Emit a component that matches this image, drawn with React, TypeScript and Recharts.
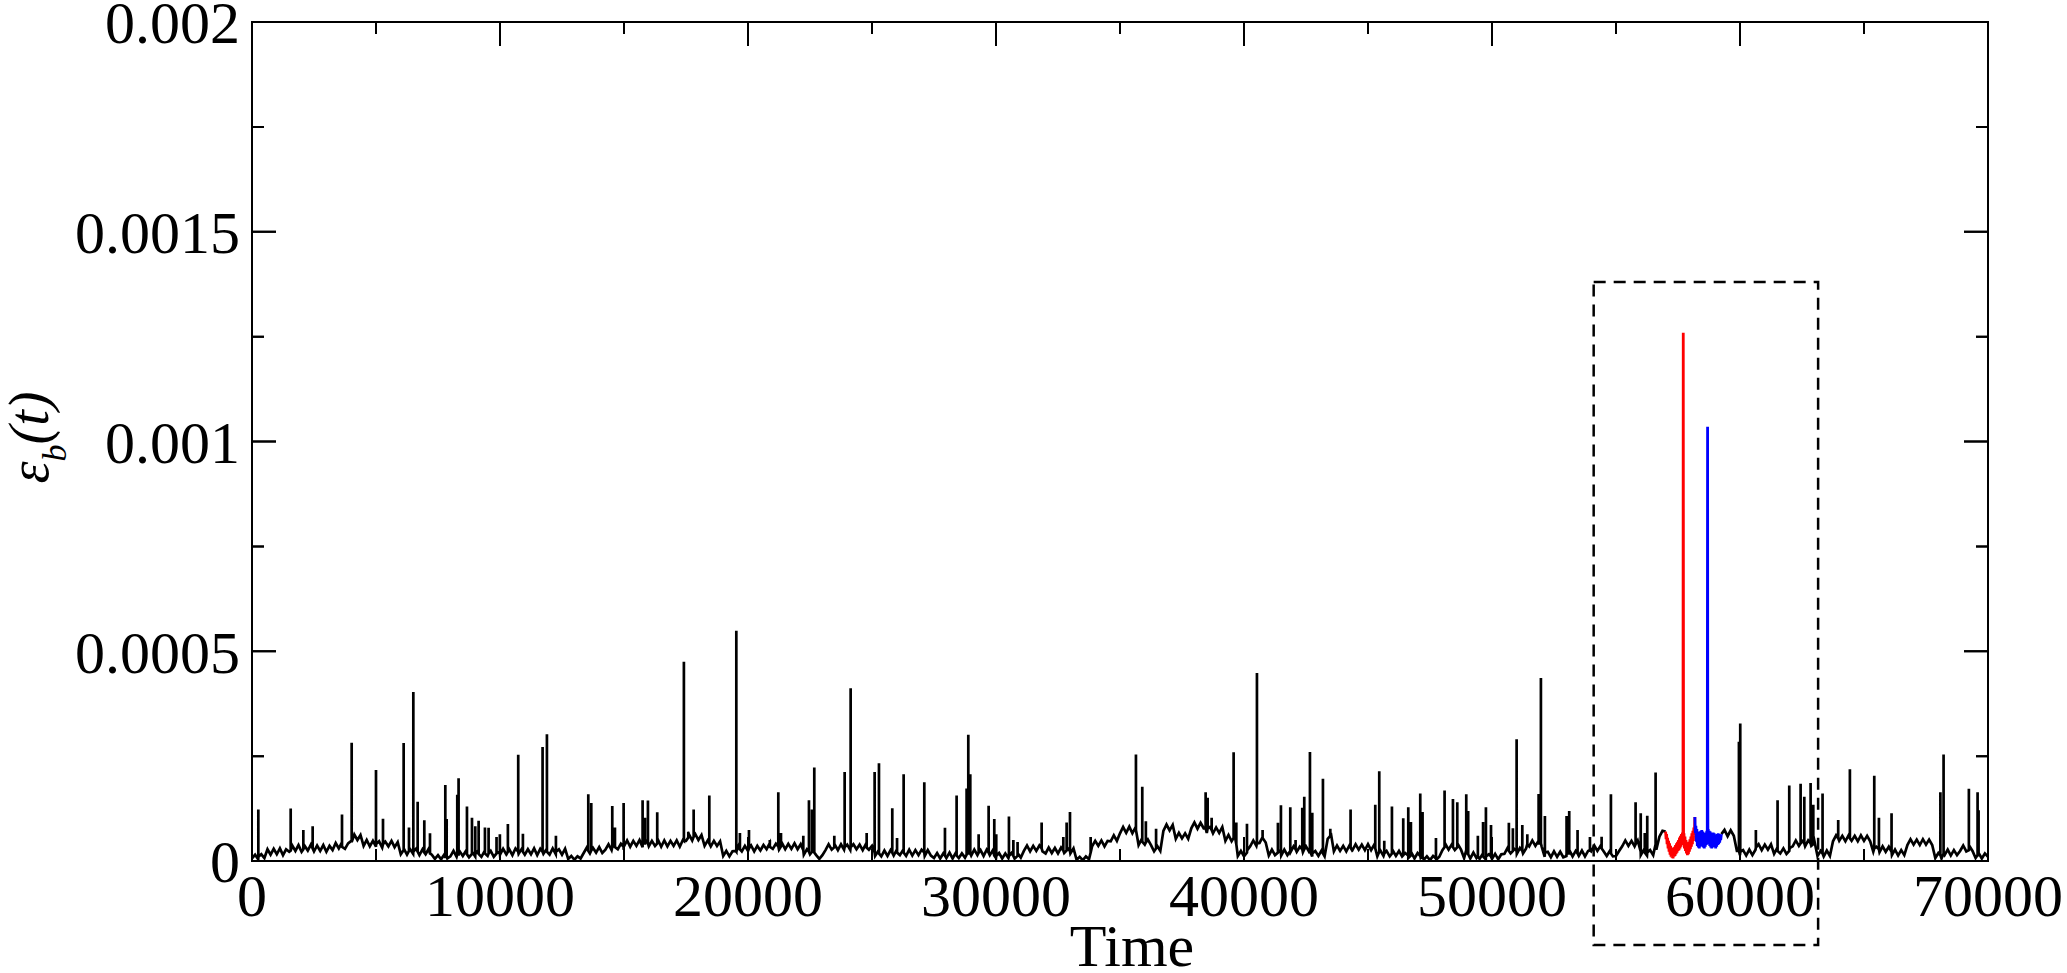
import { LineChart, Line, XAxis, YAxis, ReferenceArea, ReferenceLine, Label } from "recharts";

const FONT = "'Liberation Serif', 'Times New Roman', serif";

// layout
const CHART_W = 2067;
const CHART_H = 973;
const MARGIN = { top: 22, right: 79, bottom: 0, left: 0 };
const Y_AXIS_W = 252;
const X_AXIS_H = 112;
const PLOT_LEFT = MARGIN.left + Y_AXIS_W;
const PLOT_RIGHT = CHART_W - MARGIN.right;
const PLOT_TOP = MARGIN.top;
const PLOT_BOTTOM = CHART_H - MARGIN.bottom - X_AXIS_H;
const MAJOR = 24;
const MINOR = 12;

// axes (energy in units of 1e-6)
const xTicks = [0, 10000, 20000, 30000, 40000, 50000, 60000, 70000];
const xMinorTicks = [5000, 15000, 25000, 35000, 45000, 55000, 65000];
const yTicks = [0, 500, 1000, 1500, 2000];
const yMinorTicks = [250, 750, 1250, 1750];
const yTickLabels = ["0", "0.0005", "0.001", "0.0015", "0.002"];
const xAllTicks = [...xTicks, ...xMinorTicks].sort((a, b) => a - b);
const yAllTicks = [...yTicks, ...yMinorTicks].sort((a, b) => a - b);

// background level, one reading every 125 time units (null = coloured part)
const SAMPLE_STEP = 125;
const baseline: (number | null)[] = [
  6, 15, 4, 16, 7, 28, 15, 29, 16, 30, 14, 28, 22, 37, 24, 38, 22, 36, 25, 39, 23, 37, 24, 38, 22, 36, 26, 43, 30, 44, 29, 42, 48, 63, 50, 62, 36, 50, 35, 48,
  34, 47, 32, 46, 35, 48, 33, 45, 16, 29, 15, 28, 17, 30, 14, 28, 16, 29, 15, 5, 14, 4, 15, 6, 11, 24, 10, 23, 12, 24, 9, 22, 11, 25, 10, 23, 12, 24, 10, 22,
  15, 29, 16, 28, 14, 30, 17, 29, 15, 28, 16, 30, 14, 29, 17, 28, 15, 30, 16, 28, 15, 29, 5, 12, 3, 11, 6, 19, 32, 18, 31, 20, 33, 19, 27, 40, 26, 39, 28, 41,
  35, 49, 34, 48, 36, 50, 33, 49, 35, 48, 36, 50, 34, 49, 35, 48, 36, 49, 34, 50, 48, 63, 49, 64, 50, 62, 36, 49, 35, 48, 36, 47, 12, 24, 11, 23, 24, 37, 23, 36,
  24, 37, 23, 36, 25, 38, 28, 42, 29, 41, 27, 42, 28, 41, 29, 42, 28, 40, 15, 28, 16, 29, 14, 5, 14, 26, 40, 27, 39, 26, 40, 27, 39, 26, 40, 28, 39, 26, 40, 27,
  36, 12, 24, 11, 25, 12, 26, 13, 27, 14, 26, 12, 27, 13, 26, 14, 27, 12, 26, 13, 7, 19, 6, 18, 7, 20, 6, 19, 7, 18, 8, 26, 13, 27, 14, 26, 12, 27, 14, 26,
  7, 19, 6, 18, 7, 19, 6, 18, 8, 24, 37, 23, 36, 24, 37, 23, 18, 32, 19, 31, 18, 32, 19, 31, 18, 30, 3, 10, 2, 11, 4, 35, 48, 36, 49, 35, 48, 47, 61, 48,
  66, 81, 67, 82, 66, 80, 38, 52, 39, 51, 38, 23, 36, 24, 72, 87, 73, 86, 53, 67, 54, 66, 53, 78, 92, 77, 91, 78, 67, 81, 66, 80, 67, 81, 48, 62, 47, 61, 12, 24,
  11, 25, 35, 49, 36, 43, 57, 44, 13, 27, 14, 26, 13, 27, 14, 21, 35, 22, 34, 21, 35, 22, 11, 24, 12, 25, 11, 53, 67, 23, 37, 24, 36, 23, 37, 26, 40, 27, 39, 26,
  40, 26, 39, 11, 25, 12, 24, 11, 25, 12, 24, 11, 19, 7, 20, 6, 19, 7, 3, 11, 2, 12, 3, 10, 26, 40, 27, 39, 26, 40, 27, 7, 19, 6, 20, 7, 5, 17, 4, 16,
  5, 17, 4, 16, 17, 31, 18, 30, 17, 31, 18, 30, 35, 49, 36, 48, 35, 10, 22, 9, 23, 10, 22, 9, 12, 25, 11, 24, 12, 25, 11, 24, 23, 37, 24, 36, 23, 12, 24, 11,
  12, 24, 35, 49, 36, 48, 35, 49, 14, 27, 13, 26, 14, 27, 58, 72, 70,
  null, null, null, null, null, null, null, null, null, null, null, null, null, null, null, null, null,
  64, 74, 59, 73, 60, 24,
  14, 26, 13, 27, 14, 27, 40, 26, 39, 27, 40, 17, 31, 18, 30, 17, 31, 35, 49, 36, 48, 35, 49, 36, 48, 12, 24, 11, 25, 12, 47, 61, 48, 60, 47, 61, 48, 60, 47, 61,
  48, 60, 47, 22, 34, 21, 35, 22, 34, 14, 27, 13, 26, 14, 38, 52, 39, 51, 38, 52, 39, 51, 38, 7, 19, 6, 14, 27, 13, 26, 14, 24, 37, 23, 36, 24, 7, 19, 6, 18,
  10,
];

// bursts [time, peak, level at the foot]
const spikes: [number, number, number][] = [
  [255, 123, 10], [1560, 125, 25], [2070, 74, 28], [2446, 83, 30], [3629, 111, 34], [4019, 282, 45],
  [5000, 217, 40], [5282, 101, 40], [6115, 281, 26], [6330, 80, 24], [6505, 403, 22], [6680, 141, 22],
  [6948, 97, 20], [7177, 66, 18], [7795, 181, 10], [7850, 100, 10], [8277, 158, 16], [8330, 197, 16],
  [8668, 130, 16], [8870, 103, 17], [9003, 83, 17], [9138, 96, 17], [9393, 80, 18], [9540, 79, 18],
  [9860, 57, 18], [9995, 64, 18], [10318, 88, 22], [10735, 253, 22], [10924, 65, 22], [11717, 272, 22],
  [11892, 302, 22], [12255, 60, 22], [13560, 159, 24], [13680, 138, 25], [14527, 131, 33], [14635, 80, 33],
  [14985, 138, 34], [15750, 145, 42], [15845, 103, 42], [15965, 144, 42], [16340, 116, 42], [17415, 475, 48],
  [17593, 70, 56], [17809, 123, 58], [18440, 156, 42], [19529, 549, 22], [19674, 67, 28], [20039, 74, 30],
  [20880, 50, 34], [21222, 164, 35], [21330, 67, 35], [22230, 60, 26], [22458, 145, 22], [22580, 123, 22],
  [22673, 223, 20], [23480, 60, 33], [23897, 212, 33], [24139, 412, 33], [24785, 67, 32], [25106, 212, 20],
  [25281, 233, 18], [25818, 126, 20], [26010, 55, 20], [26276, 207, 20], [27109, 188, 20], [27942, 79, 13],
  [28412, 156, 13], [28815, 173, 15], [28883, 301, 18], [28963, 207, 18], [29300, 64, 20], [29703, 132, 20],
  [29931, 100, 13], [30010, 64, 12], [30522, 106, 12], [30700, 50, 12], [30870, 45, 12], [31840, 92, 30],
  [32714, 57, 25], [32848, 92, 25], [32983, 117, 24], [33816, 57, 20], [35643, 254, 74], [35898, 177, 46],
  [36043, 95, 44], [36455, 77, 30], [38453, 164, 78], [38534, 151, 78], [38695, 103, 74], [39582, 259, 55],
  [39690, 92, 40], [40120, 89, 20], [40522, 448, 42], [40750, 74, 55], [41368, 91, 20], [41489, 133, 20],
  [41866, 128, 24], [42080, 50, 28], [42350, 127, 28], [42430, 153, 28], [42659, 260, 24], [42753, 115, 18],
  [43183, 196, 18], [43480, 77, 60], [44298, 123, 32], [45293, 134, 30], [45454, 214, 22], [45656, 48, 18],
  [45965, 130, 18], [46421, 102, 14], [46624, 128, 13], [46730, 93, 13], [47107, 161, 12], [47200, 117, 10],
  [47740, 55, 6], [48088, 168, 33], [48425, 148, 33], [48600, 140, 33], [48962, 159, 26], [49040, 119, 16],
  [49430, 60, 11], [49640, 93, 11], [49755, 128, 11], [49960, 86, 11], [50680, 91, 24], [50842, 78, 24],
  [50993, 290, 24], [51222, 86, 24], [51424, 64, 40], [51880, 160, 42], [51972, 436, 42], [52133, 107, 20],
  [53007, 107, 18], [53114, 119, 18], [53450, 74, 18], [53950, 57, 26], [54420, 58, 30], [54795, 159, 18],
  [55790, 140, 40], [55997, 114, 22], [56160, 67, 20], [56260, 108, 20], [56597, 211, 40], [59957, 284, 24],
  [60010, 328, 22], [60640, 74, 32], [61515, 145, 24], [61986, 180, 24], [62444, 184, 42], [62593, 153, 42],
  [62847, 186, 42], [62955, 134, 40], [63329, 161, 18], [63960, 98, 54], [64431, 219, 54], [65414, 203, 30],
  [65602, 103, 28], [66111, 114, 22], [68080, 164, 14], [68209, 254, 18], [69229, 172, 26], [69580, 164, 14],
  [69620, 121, 14],
];

// the two highlighted events
const redPart: [number, number][] = [
  [57000, 70], [57020, 52], [57040, 64], [57060, 40], [57080, 55], [57100, 30], [57120, 48], [57140, 22],
  [57160, 42], [57180, 15], [57200, 36], [57220, 10], [57240, 32], [57260, 8], [57280, 30], [57300, 6],
  [57320, 28], [57340, 10], [57360, 34], [57380, 12], [57400, 38], [57420, 16], [57440, 42], [57460, 20],
  [57480, 46], [57500, 24], [57520, 50], [57540, 26], [57560, 56], [57580, 30], [57600, 60], [57620, 34],
  [57640, 64], [57660, 38], [57680, 68], [57700, 42], [57712, 1259], [57724, 40], [57740, 66], [57760, 30],
  [57780, 58], [57800, 24], [57820, 50], [57840, 18], [57860, 44], [57880, 14], [57900, 40], [57920, 16],
  [57940, 46], [57960, 22], [57980, 52], [58000, 28], [58020, 58], [58040, 34], [58060, 66], [58080, 40],
  [58100, 72], [58120, 48], [58140, 80], [58160, 60], [58180, 105],
];

const bluePart: [number, number][] = [
  [58180, 105], [58200, 66], [58220, 84], [58240, 46], [58260, 76], [58280, 36], [58300, 70], [58320, 32],
  [58340, 68], [58360, 30], [58380, 70], [58400, 34], [58420, 72], [58440, 36], [58460, 74], [58480, 38],
  [58500, 70], [58520, 32], [58540, 66], [58560, 30], [58580, 64], [58600, 34], [58620, 68], [58640, 38],
  [58660, 72], [58680, 46], [58693, 1035], [58700, 181], [58706, 56], [58720, 76], [58740, 40], [58760, 72],
  [58780, 36], [58800, 70], [58820, 32], [58840, 66], [58860, 30], [58880, 64], [58900, 34], [58920, 68],
  [58940, 36], [58960, 66], [58980, 32], [59000, 62], [59020, 30], [59040, 60], [59060, 34], [59080, 64],
  [59100, 38], [59120, 66], [59140, 40], [59160, 64], [59180, 44], [59200, 62], [59220, 50], [59250, 64],
];

// dashed zoom box
const boxT = [54100, 63150];
const boxE = [-200, 1380];

const toPoints = (pairs: [number, number][]) => pairs.map(([t, v]) => ({ t, v }));

// nulls are kept so the black trace breaks where the coloured parts are drawn
const basePoints = baseline.map((v, i) => ({ t: i * SAMPLE_STEP, v }));
// each burst is a vertical stroke: foot -> peak -> foot
const spikePoints = spikes.flatMap(([t, peak, foot]) => [
  { t, v: foot },
  { t, v: peak },
  { t, v: foot },
]);
const blackData = [...basePoints, ...spikePoints].sort((a, b) => a.t - b.t);
const redData = toPoints(redPart);
const blueData = toPoints(bluePart);

const frame = { stroke: "#000", strokeWidth: 2 };

// x tick: label below the axis plus inward marks at bottom and top of the box
function TimeTick(props: any) {
  const { x, y, payload } = props;
  const major = xTicks.includes(payload.value);
  const len = major ? MAJOR : MINOR;
  const d = `M${x},${PLOT_BOTTOM}V${PLOT_BOTTOM - len}M${x},${PLOT_TOP}V${PLOT_TOP + len}`;
  return (
    <g>
      <path d={d} stroke="#000" strokeWidth={2} fill="none" />
      {major && (
        <text x={x} y={y} dy="0.71em" textAnchor="middle" fontFamily={FONT} fontSize={60} fill="#000">
          {String(payload.value)}
        </text>
      )}
    </g>
  );
}

// y tick: label left of the axis plus inward marks at left and right of the box
function EnergyTick(props: any) {
  const { x, y, payload } = props;
  const idx = yTicks.indexOf(payload.value);
  const len = idx >= 0 ? MAJOR : MINOR;
  const d = `M${PLOT_LEFT},${y}H${PLOT_LEFT + len}M${PLOT_RIGHT},${y}H${PLOT_RIGHT - len}`;
  return (
    <g>
      <path d={d} stroke="#000" strokeWidth={2} fill="none" />
      {idx >= 0 && (
        <text x={x} y={y} dy="0.355em" textAnchor="end" fontFamily={FONT} fontSize={60} fill="#000">
          {yTickLabels[idx]}
        </text>
      )}
    </g>
  );
}

// backup marks drawn along reference lines (one path per line)
const tickMarks = (len: number) => (p: any) => {
  const x1 = Number(p.x1);
  const y1 = Number(p.y1);
  const x2 = Number(p.x2);
  const y2 = Number(p.y2);
  let d: string;
  if (Math.abs(x1 - x2) < Math.abs(y1 - y2)) {
    const top = Math.min(y1, y2);
    const bottom = Math.max(y1, y2);
    d = `M${x1},${top}V${top + len}M${x1},${bottom}V${bottom - len}`;
  } else {
    const left = Math.min(x1, x2);
    const right = Math.max(x1, x2);
    d = `M${left},${y1}H${left + len}M${right},${y1}H${right - len}`;
  }
  return <path d={d} stroke="#000" strokeWidth={2} fill="none" />;
};
const majorMark = tickMarks(MAJOR);
const minorMark = tickMarks(MINOR);

function TimeLabel(props: any) {
  const { x, y, width, height } = props.viewBox;
  return (
    <text x={x + width / 2 + 12} y={y + height - 7} textAnchor="middle" fontFamily={FONT} fontSize={60} fill="#000">
      Time
    </text>
  );
}

function EnergyLabel(props: any) {
  const { x, y, height } = props.viewBox;
  const cx = x + 48;
  const cy = y + height / 2 - 4;
  return (
    <text
      x={cx}
      y={cy}
      transform={`rotate(-90 ${cx} ${cy})`}
      textAnchor="middle"
      fontFamily={FONT}
      fontStyle="italic"
      fontSize={56}
      fill="#000"
    >
      <tspan>ε</tspan>
      <tspan fontSize={34} dy={18}>b</tspan>
      <tspan dy={-18}>(t)</tspan>
    </text>
  );
}

export default function App() {
  return (
    <div style={{ position: "absolute", left: 0, top: 0, width: CHART_W, height: CHART_H, background: "#fff" }}>
      <LineChart width={CHART_W} height={CHART_H} margin={MARGIN}>
        <XAxis
          xAxisId="main"
          type="number"
          dataKey="t"
          domain={[0, 70000]}
          allowDataOverflow
          ticks={xAllTicks}
          interval={0}
          height={X_AXIS_H}
          tickSize={0}
          tickMargin={12}
          tickLine={false}
          axisLine={frame}
          tick={TimeTick}
        >
          <Label content={TimeLabel} />
        </XAxis>
        <YAxis
          yAxisId="main"
          type="number"
          domain={[0, 2000]}
          allowDataOverflow
          ticks={yAllTicks}
          interval={0}
          width={Y_AXIS_W}
          tickSize={0}
          tickMargin={12}
          tickLine={false}
          axisLine={frame}
          tick={EnergyTick}
        >
          <Label content={EnergyLabel} />
        </YAxis>

        {/* box frame and inner tick marks */}
        <ReferenceArea xAxisId="main" yAxisId="main" x1={0} x2={70000} y1={0} y2={2000} fill="none" fillOpacity={0} stroke="#000" strokeWidth={2} />
        {xTicks.map((t) => (
          <ReferenceLine key={`xM${t}`} xAxisId="main" yAxisId="main" x={t} shape={majorMark} />
        ))}
        {xMinorTicks.map((t) => (
          <ReferenceLine key={`xm${t}`} xAxisId="main" yAxisId="main" x={t} shape={minorMark} />
        ))}
        {yTicks.map((v) => (
          <ReferenceLine key={`yM${v}`} xAxisId="main" yAxisId="main" y={v} shape={majorMark} />
        ))}
        {yMinorTicks.map((v) => (
          <ReferenceLine key={`ym${v}`} xAxisId="main" yAxisId="main" y={v} shape={minorMark} />
        ))}

        <Line xAxisId="main" yAxisId="main" data={blackData} dataKey="v" type="linear" stroke="#000" strokeWidth={2.7} dot={false} isAnimationActive={false} />
        <Line xAxisId="main" yAxisId="main" data={redData} dataKey="v" type="linear" stroke="#ff0000" strokeWidth={2.8} dot={false} isAnimationActive={false} />
        <Line xAxisId="main" yAxisId="main" data={blueData} dataKey="v" type="linear" stroke="#0000ff" strokeWidth={2.8} dot={false} isAnimationActive={false} />

        <ReferenceArea
          xAxisId="main"
          yAxisId="main"
          x1={boxT[0]}
          x2={boxT[1]}
          y1={boxE[0]}
          y2={boxE[1]}
          ifOverflow="visible"
          fill="none"
          fillOpacity={0}
          stroke="#000"
          strokeWidth={2.5}
          strokeDasharray="12 8"
        />
      </LineChart>
    </div>
  );
}
